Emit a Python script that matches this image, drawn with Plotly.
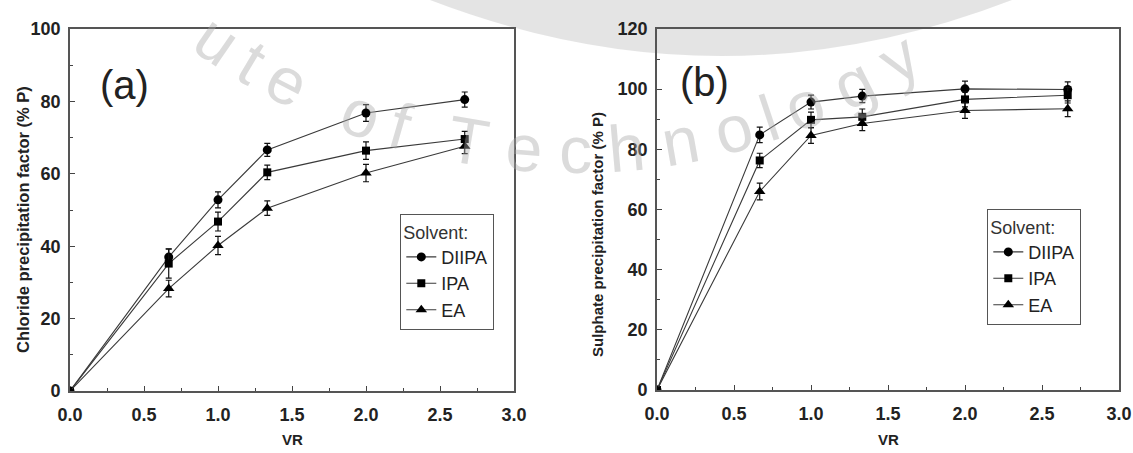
import math
import plotly.graph_objects as go

# ---- data ----
vr = [0.0, 0.667, 1.0, 1.333, 2.0, 2.667]

cl_diipa = [0.0, 37.0, 52.8, 66.6, 76.8, 80.5]
cl_ipa = [0.0, 35.2, 46.8, 60.4, 66.4, 69.6]
cl_ea = [0.0, 28.3, 40.2, 50.5, 60.2, 67.6]
cl_diipa_err = [0.0, 2.3, 2.2, 1.8, 2.3, 2.1]
cl_ipa_err = [0.0, 4.0, 2.6, 2.0, 2.4, 2.1]
cl_ea_err = [0.0, 2.3, 2.5, 2.0, 2.4, 2.0]

so_diipa = [0.0, 84.8, 95.7, 97.7, 100.1, 99.9]
so_ipa = [0.0, 76.3, 89.8, 90.8, 96.6, 98.0]
so_ea = [0.0, 66.0, 84.6, 88.6, 92.9, 93.5]
so_diipa_err = [0.0, 2.6, 2.3, 2.2, 2.6, 2.5]
so_ipa_err = [0.0, 2.4, 2.6, 2.6, 2.5, 2.6]
so_ea_err = [0.0, 2.8, 2.6, 2.4, 2.6, 2.6]

series_names = ["DIIPA", "IPA", "EA"]
symbols = ["circle", "square", "triangle-up"]
marker_sizes = [9, 8, 10]

x_ticks = [0.0, 0.5, 1.0, 1.5, 2.0, 2.5, 3.0]
y_ticks_a = [0, 20, 40, 60, 80, 100]
y_ticks_b = [0, 20, 40, 60, 80, 100, 120]

W, H = 1133, 453
FONT = "Liberation Sans, Arial, sans-serif"

def px(x):
    return x / W

def py(y):
    return 1 - y / H

fig = go.Figure()

panel_a = [(cl_diipa, cl_diipa_err), (cl_ipa, cl_ipa_err), (cl_ea, cl_ea_err)]
panel_b = [(so_diipa, so_diipa_err), (so_ipa, so_ipa_err), (so_ea, so_ea_err)]

for (vals, errs), name, sym, ms in zip(panel_a, series_names, symbols, marker_sizes):
    fig.add_trace(go.Scatter(
        x=vr, y=vals, name=name, mode="lines+markers",
        line=dict(color="#3a3a3a", width=1.1),
        marker=dict(symbol=sym, size=ms, color="black"),
        error_y=dict(type="data", array=errs, visible=True, color="#111111", thickness=1.2, width=3),
        xaxis="x", yaxis="y", legend="legend",
    ))

for (vals, errs), name, sym, ms in zip(panel_b, series_names, symbols, marker_sizes):
    fig.add_trace(go.Scatter(
        x=vr, y=vals, name=name, mode="lines+markers",
        line=dict(color="#3a3a3a", width=1.1),
        marker=dict(symbol=sym, size=ms, color="black"),
        error_y=dict(type="data", array=errs, visible=True, color="#111111", thickness=1.2, width=3),
        xaxis="x2", yaxis="y2", legend="legend2",
    ))

tickfont = dict(family=FONT, size=18, color="#222222", weight="bold")
axis_common = dict(
    showgrid=False, zeroline=False, showline=True, linecolor="#555555", linewidth=1.6,
    mirror=True, ticks="inside", ticklen=5, tickwidth=1.3, tickcolor="#444444",
    tickfont=tickfont, automargin=False,
)

fig.update_layout(
    template="none",
    width=W, height=H,
    margin=dict(l=0, r=0, t=0, b=0, pad=0, autoexpand=False),
    paper_bgcolor="white", plot_bgcolor="rgba(0,0,0,0)",
    font=dict(family=FONT),
    xaxis=dict(domain=[px(70), px(514)], range=[0, 3.0], tickvals=x_ticks, tickformat=".1f",
               anchor="y", ticklabelstandoff=7,
               minor=dict(dtick=0.25, ticks="inside", ticklen=3, tickcolor="#444444"), **axis_common),
    yaxis=dict(domain=[py(391), py(29)], range=[0, 100], tickvals=y_ticks_a, anchor="x",
               ticklabelstandoff=4,
               minor=dict(dtick=10, ticks="inside", ticklen=3, tickcolor="#444444"), **axis_common),
    xaxis2=dict(domain=[px(657), px(1119)], range=[0, 3.0], tickvals=x_ticks, tickformat=".1f",
                anchor="y2", ticklabelstandoff=7,
                minor=dict(dtick=0.25, ticks="inside", ticklen=3, tickcolor="#444444"), **axis_common),
    yaxis2=dict(domain=[py(390), py(29)], range=[0, 120], tickvals=y_ticks_b, anchor="x2",
                ticklabelstandoff=4,
                minor=dict(dtick=10, ticks="inside", ticklen=3, tickcolor="#444444"), **axis_common),
    legend=dict(x=px(400), y=py(214), xanchor="left", yanchor="top",
                bordercolor="#555555", borderwidth=1.3, bgcolor="rgba(255,255,255,0)",
                title=dict(text="Solvent:", font=dict(family=FONT, size=18, color="#333333")),
                font=dict(family=FONT, size=18, color="#222222"),
                tracegroupgap=0, itemwidth=30),
    legend2=dict(x=px(987), y=py(209), xanchor="left", yanchor="top",
                 bordercolor="#555555", borderwidth=1.3, bgcolor="rgba(255,255,255,0)",
                 title=dict(text="Solvent:", font=dict(family=FONT, size=18, color="#333333")),
                 font=dict(family=FONT, size=18, color="#222222"),
                 tracegroupgap=0, itemwidth=30),
    showlegend=True,
)

# ---- watermark (faint) ----
shapes = [dict(type="path", xref="paper", yref="paper", layer="below",
               path=f"M {px(430)} {py(0)} Q {px(722)} {py(112)} {px(1012)} {py(0)} Z",
               fillcolor="rgba(205,205,205,0.55)", line=dict(width=0))]
fig.update_layout(shapes=shapes)

wm_text = "ute of Technology"
widths = {"u": .556, "t": .278, "e": .556, " ": .278, "o": .556, "f": .278, "T": .611,
          "c": .5, "h": .556, "n": .556, "l": .222, "g": .556, "y": .5}
cx, cy, r = 572, -475, 625
em = 97
start = math.radians(-34.5)
s = 0.0
annotations = []
for i, ch in enumerate(wm_text):
    w = widths[ch] * em
    if i == 0:
        s = 0.0
    else:
        s += (widths[wm_text[i - 1]] * em) / 2 + w / 2
    if ch == " ":
        continue
    ang = start + s / r
    x = cx + r * math.sin(ang)
    y = cy + r * math.cos(ang)
    annotations.append(dict(text=ch, x=px(x), y=py(y), xref="paper", yref="paper",
                            showarrow=False, textangle=-math.degrees(ang),
                            font=dict(family=FONT, size=66, color="rgba(170,170,170,0.42)"),
                            xanchor="center", yanchor="middle"))

# ---- labels ----
def label(text, x, y, size, angle=0, bold=True, xref="paper", yref="paper"):
    return dict(text=text, x=x, y=y, xref=xref, yref=yref, showarrow=False,
                textangle=angle, xanchor="center", yanchor="middle",
                font=dict(family=FONT, size=size, color="#222222",
                          weight="bold" if bold else "normal"))

annotations += [
    label("(a)", 0.37, 84.5, 40, bold=False, xref="x", yref="y"),
    label("(b)", 0.31, 102.5, 40, bold=False, xref="x2", yref="y2"),
    label("Chloride precipitation factor (% P)", px(23), py(220), 16.5, angle=-90),
    label("Sulphate precipitation factor (% P)", px(597), py(235), 15, angle=-90),
    label("VR", px(292), py(439), 15),
    label("VR", px(888), py(439), 15),
]
fig.update_layout(annotations=annotations)

fig.write_html("out.html")
